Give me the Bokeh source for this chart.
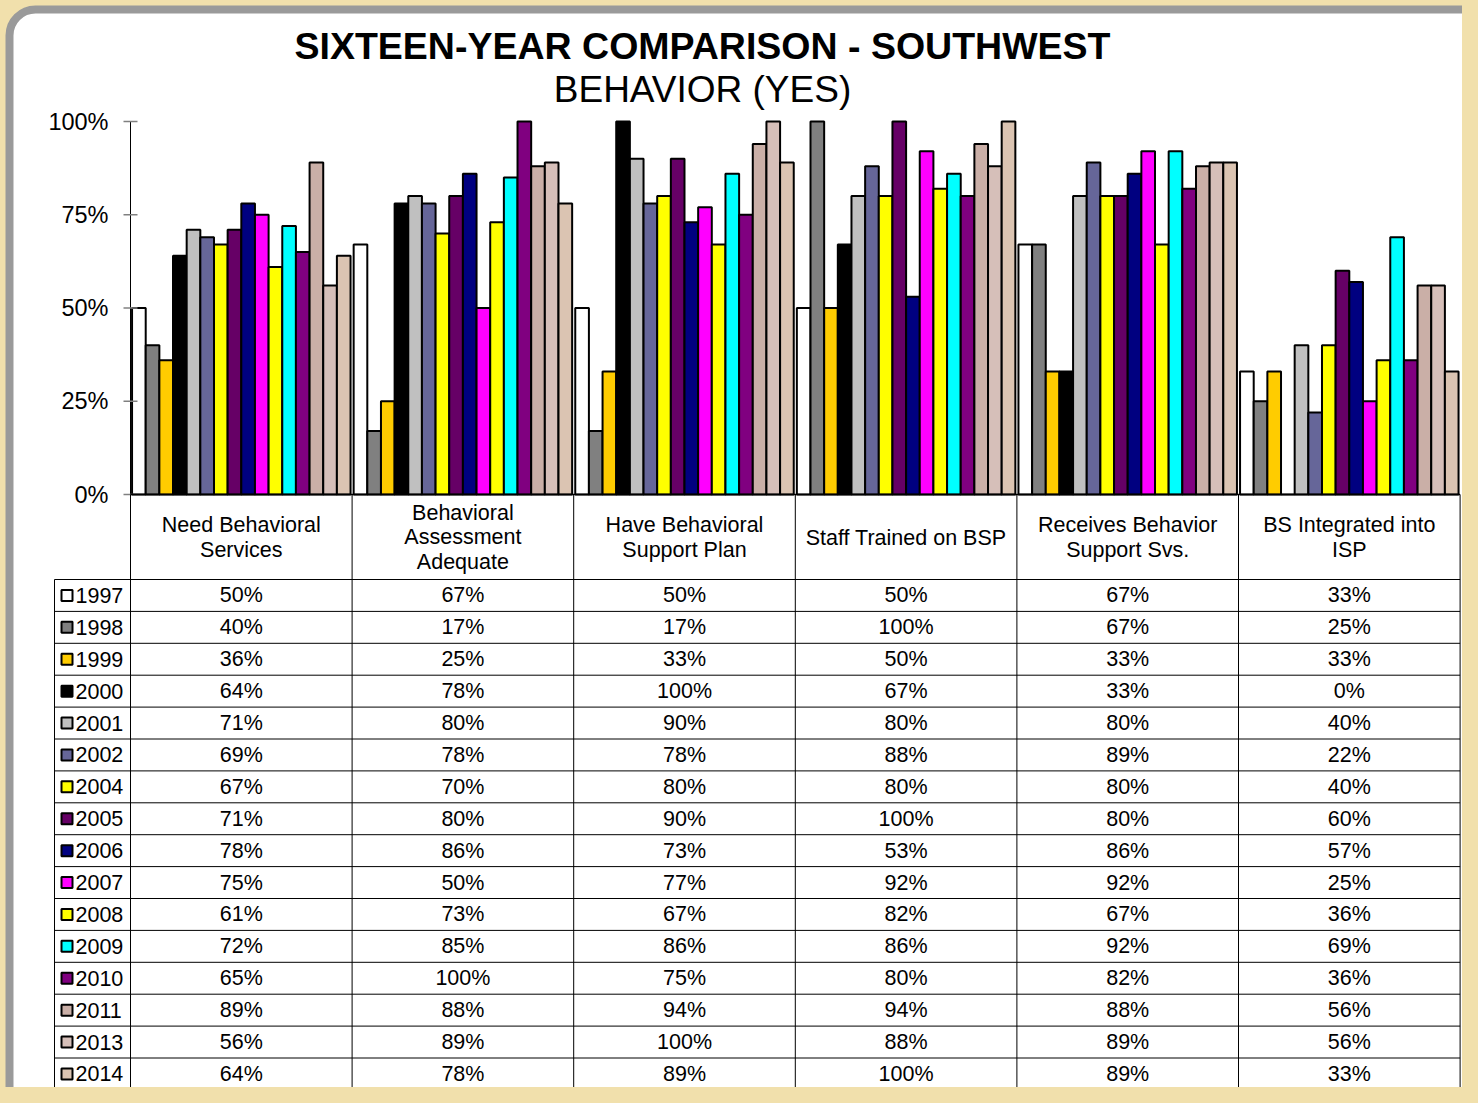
from bokeh.plotting import figure
from bokeh.models import Range1d, BoxAnnotation
from bokeh.core.properties import value
from bokeh.embed import file_html
from bokeh.resources import INLINE

# ---------------- data ----------------
title_text = "SIXTEEN-YEAR COMPARISON - SOUTHWEST"
subtitle_text = "BEHAVIOR (YES)"

categories = [
    "Need Behavioral\nServices",
    "Behavioral\nAssessment\nAdequate",
    "Have Behavioral\nSupport Plan",
    "Staff Trained on BSP",
    "Receives Behavior\nSupport Svs.",
    "BS Integrated into\nISP",
]

years = ["1997", "1998", "1999", "2000", "2001", "2002", "2004", "2005",
         "2006", "2007", "2008", "2009", "2010", "2011", "2013", "2014"]

colors = ["#FFFFFF", "#808080", "#FFCC00", "#000000", "#C0C0C0", "#666699",
          "#FFFF00", "#660066", "#000080", "#FF00FF", "#FFFF00", "#00FFFF",
          "#800080", "#CAAFA7", "#D6BFB9", "#DBC4B2"]

y1997 = [50, 67, 50, 50, 67, 33]
y1998 = [40, 17, 17, 100, 67, 25]
y1999 = [36, 25, 33, 50, 33, 33]
y2000 = [64, 78, 100, 67, 33, 0]
y2001 = [71, 80, 90, 80, 80, 40]
y2002 = [69, 78, 78, 88, 89, 22]
y2004 = [67, 70, 80, 80, 80, 40]
y2005 = [71, 80, 90, 100, 80, 60]
y2006 = [78, 86, 73, 53, 86, 57]
y2007 = [75, 50, 77, 92, 92, 25]
y2008 = [61, 73, 67, 82, 67, 36]
y2009 = [72, 85, 86, 86, 92, 69]
y2010 = [65, 100, 75, 80, 82, 36]
y2011 = [89, 88, 94, 94, 88, 56]
y2013 = [56, 89, 100, 88, 89, 56]
y2014 = [64, 78, 89, 100, 89, 33]

series = [y1997, y1998, y1999, y2000, y2001, y2002, y2004, y2005,
          y2006, y2007, y2008, y2009, y2010, y2011, y2013, y2014]

y_ticks = [0, 25, 50, 75, 100]
y_tick_labels = ["0%", "25%", "50%", "75%", "100%"]

# ---------------- layout helpers ----------------
W, H = 1462, 1087
X0_PX, CAT_PX = 130.0, 221.6   # left of plot area, width of one category (px)
Y0_PX, PCT_PX = 494.0, 3.73    # 0% baseline, px per percent


def dx(px):
    return (px - X0_PX) / CAT_PX


def dy(py):
    return (Y0_PX - py) / PCT_PX


BEIGE = "#F1E0AC"
FONT = value("Liberation Sans")

p = figure(width=W, height=H,
           x_range=Range1d(dx(0), dx(W)),
           y_range=Range1d(dy(H), dy(0)),
           output_backend="svg", toolbar_location=None,
           x_axis_type=None, y_axis_type=None, min_border=0,
           outline_line_color=None,
           background_fill_color=BEIGE, border_fill_color=BEIGE)

# rounded white panel with grey frame
panel = BoxAnnotation(left=dx(9), right=dx(1490), top=dy(9), bottom=dy(1120),
                      fill_color="white", fill_alpha=1.0,
                      line_color="#9A9A9A", line_width=8, line_alpha=1.0,
                      border_radius=26, level="underlay")
p.add_layout(panel)

# ---------------- titles ----------------
p.text(x=[dx(702)], y=[dy(45)], text=[title_text], text_font=FONT,
       text_font_size="37.5px", text_font_style="bold", text_align="center",
       text_baseline="middle", text_color="black")
p.text(x=[dx(702)], y=[dy(89)], text=[subtitle_text], text_font=FONT,
       text_font_size="37px", text_align="center",
       text_baseline="middle", text_color="black")

# ---------------- bars ----------------
n = len(years)
group_w = 0.986
bar_w = group_w / n
for j, (yr, col, vals) in enumerate(zip(years, colors, series)):
    xs = [i + (1 - group_w) / 2 + bar_w * (j + 0.5) for i in range(len(categories))]
    p.vbar(x=xs, top=vals, bottom=0, width=bar_w, fill_color=col,
           line_color="black", line_width=2)

# ---------------- y axis (drawn) ----------------
p.segment(x0=[0], y0=[0], x1=[0], y1=[y_ticks[-1]], line_color="black", line_width=1)
p.segment(x0=[dx(123)] * len(y_ticks), y0=y_ticks,
          x1=[dx(137)] * len(y_ticks), y1=y_ticks,
          line_color="#808080", line_width=1.5)
p.text(x=[dx(108)] * len(y_ticks), y=y_ticks, text=y_tick_labels, text_font=FONT,
       text_font_size="23.5px", text_align="right", text_baseline="middle",
       text_color="black")

# x axis line
p.segment(x0=[0], y0=[0], x1=[len(categories)], y1=[0], line_color="black", line_width=1.5)

# ---------------- data table ----------------
ROW0_PX, ROW_PX = 579.0, 31.9
bottom_y = dy(H + 20)

# category header labels
p.text(x=[i + 0.5 for i in range(len(categories))], y=[dy(537)] * len(categories),
       text=categories, text_font=FONT, text_font_size="21.5px",
       text_align="center", text_baseline="middle", text_line_height=1.03,
       text_color="black")

# horizontal rules
h_y = [dy(ROW0_PX + ROW_PX * k) for k in range(n + 1)]
p.segment(x0=[dx(54)] * len(h_y), y0=h_y, x1=[len(categories)] * len(h_y), y1=h_y,
          line_color="black", line_width=1)
# vertical rules
v_x = list(range(len(categories) + 1))
p.segment(x0=v_x, y0=[0] * len(v_x), x1=v_x, y1=[bottom_y] * len(v_x),
          line_color="black", line_width=1)
p.segment(x0=[dx(54)], y0=[dy(ROW0_PX)], x1=[dx(54)], y1=[bottom_y],
          line_color="black", line_width=1)

# rows: legend key + values
row_c = [dy(ROW0_PX + ROW_PX * (j + 0.5)) for j in range(n)]
p.rect(x=[dx(66.5)] * n, y=row_c, width=11, height=11,
       width_units="screen", height_units="screen",
       fill_color=colors, line_color="black", line_width=2)
p.text(x=[dx(75)] * n, y=row_c, text=years, text_font=FONT, text_font_size="21.5px",
       text_align="left", text_baseline="middle", text_color="black")

for j, vals in enumerate(series):
    p.text(x=[i + 0.5 for i in range(len(vals))], y=[row_c[j]] * len(vals),
           text=[f"{v}%" for v in vals], text_font=FONT, text_font_size="21.5px",
           text_align="center", text_baseline="middle", text_color="black")

html = file_html(p, INLINE, title="Sixteen-Year Comparison - Southwest")
html = html.replace("</head>", "<style>html,body{background:%s;}</style>\n</head>" % BEIGE, 1)
open("out.html", "w").write(html)
